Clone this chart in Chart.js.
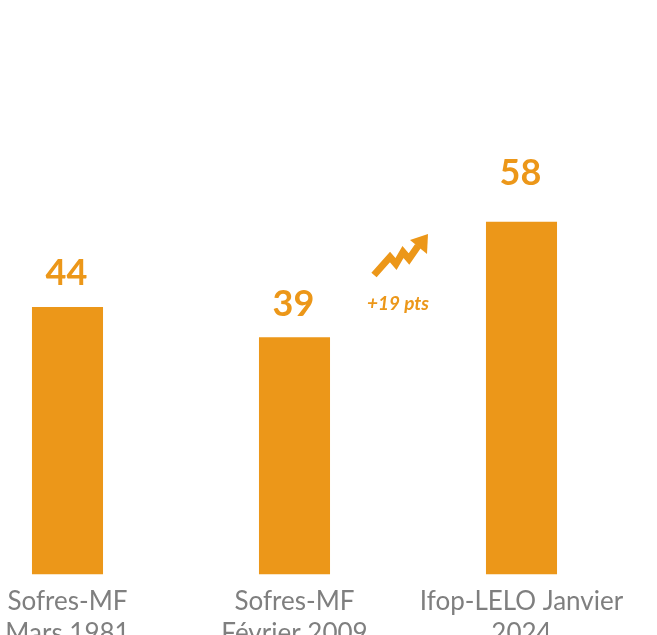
<!DOCTYPE html>
<html>
<head>
<meta charset="utf-8">
<script src="https://cdn.jsdelivr.net/npm/chart.js@4"></script>
<style>
  html, body { margin: 0; padding: 0; background: #fff; overflow: hidden; }
  #wrap { position: absolute; left: -46px; top: 0; width: 703px; height: 635px; }
</style>
</head>
<body>
<div id="wrap"><canvas id="myBarChart"></canvas></div>
<script>
// données
var categories = [['Sofres-MF', 'Mars 1981'], ['Sofres-MF', 'Février 2009'], ['Ifop-LELO Janvier', '2024']];
var values = [44, 39, 58];
var evolutionLabel = '+19 pts';

var ORANGE = '#EC9719';
var GREY = '#7f7f7f';

// étiquettes au-dessus des barres + flèche
var labelsPlugin = {
    id: 'valueLabels',
    afterDatasetsDraw: function (chart) {
        var ctx = chart.ctx;
        var meta = chart.getDatasetMeta(0);
        var gaps = [22, 21, 37];
        ctx.save();
        ctx.fillStyle = ORANGE;
        ctx.textAlign = 'center';
        ctx.textBaseline = 'alphabetic';
        ctx.font = 'bold 36px Lato';
        meta.data.forEach(function (bar, i) {
            ctx.fillText(String(values[i]), bar.x - 1, bar.y - gaps[i]);
        });

        // flèche en zigzag, entre la 2e et la 3e barre
        var b2 = meta.data[1], b3 = meta.data[2];
        var cx = (b2.x + b3.x) / 2 - 10;
        ctx.translate(cx, 0);
        ctx.strokeStyle = ORANGE;
        ctx.lineWidth = 7;
        ctx.lineJoin = 'miter';
        ctx.beginPath();
        ctx.moveTo(-24, 275);
        ctx.lineTo(-8, 257);
        ctx.lineTo(-2, 264);
        ctx.lineTo(5, 252);
        ctx.lineTo(11, 259);
        ctx.lineTo(20, 246);
        ctx.stroke();
        ctx.beginPath();
        ctx.moveTo(12, 240);
        ctx.lineTo(30, 234);
        ctx.lineTo(29, 254);
        ctx.closePath();
        ctx.fill();

        ctx.font = 'italic bold 19px Lato';
        ctx.fillText(evolutionLabel, 0, 310);
        ctx.restore();
    }
};

var ctx = document.getElementById('myBarChart');
var myBarChart = new Chart(ctx, {
    type: 'bar',
    data: {
        labels: categories,
        datasets: [{
            data: values,
            backgroundColor: ORANGE,
            borderWidth: 0,
            barPercentage: 0.313,
            categoryPercentage: 1.0
        }]
    },
    options: {
        responsive: true,
        maintainAspectRatio: false,
        animation: false,
        layout: { padding: { top: 88, right: 22, left: 0, bottom: 0 } },
        plugins: {
            legend: { display: false },
            tooltip: { enabled: false }
        },
        scales: {
            x: {
                grid: { display: false, drawTicks: false },
                border: { display: false },
                ticks: {
                    color: GREY,
                    font: { family: 'Lato', size: 26 },
                    maxRotation: 0,
                    autoSkip: false,
                    padding: 12
                },
                afterFit: function (scale) { scale.height = 60.5; }
            },
            y: {
                display: false,
                min: 0,
                max: 80
            }
        }
    },
    plugins: [labelsPlugin]
});
</script>
</body>
</html>
